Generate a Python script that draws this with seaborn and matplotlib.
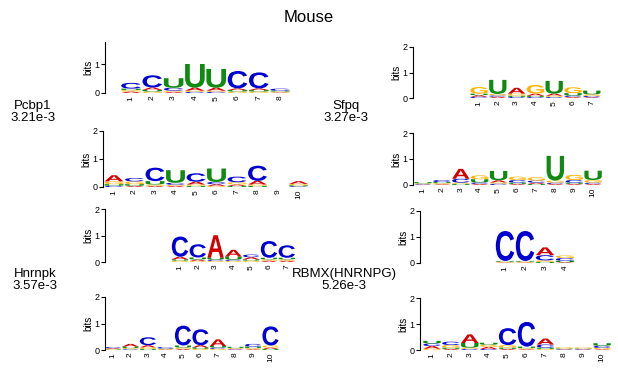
import matplotlib
matplotlib.use("Agg")
import matplotlib.pyplot as plt
import seaborn as sns
from matplotlib.textpath import TextPath
from matplotlib.patches import PathPatch
from matplotlib.font_manager import FontProperties
from matplotlib.transforms import Affine2D

sns.set_style("ticks", {'text.color': 'black', 'axes.labelcolor': 'black',
                        'xtick.color': 'black', 'ytick.color': 'black',
                        'axes.edgecolor': 'black'})
plt.rcParams['font.family'] = ['Liberation Sans', 'DejaVu Sans']

bases = ['A', 'C', 'G', 'U']
base_colors = {'A': '#D40000', 'C': '#0000D0', 'G': '#FFB300', 'U': '#108A10'}

# letter heights in bits per position
pcbp1_motif = {
    'A': [0.05, 0.08, 0.04, 0.10, 0.10, 0.06, 0.06, 0.02],
    'C': [0.20, 0.42, 0.10, 0.04, 0.04, 0.60, 0.55, 0.07],
    'G': [0.05, 0.05, 0.04, 0.04, 0.04, 0.05, 0.05, 0.03],
    'U': [0.05, 0.06, 0.33, 0.82, 0.65, 0.05, 0.05, 0.03],
}
pcbp1_db = {
    'A': [0.22, 0.04, 0.04, 0.04, 0.10, 0.06, 0.05, 0.13, 0.0, 0.10],
    'C': [0.04, 0.12, 0.48, 0.07, 0.30, 0.08, 0.20, 0.54, 0.0, 0.03],
    'G': [0.10, 0.10, 0.05, 0.04, 0.05, 0.04, 0.08, 0.05, 0.0, 0.05],
    'U': [0.06, 0.06, 0.12, 0.45, 0.04, 0.48, 0.04, 0.04, 0.0, 0.03],
}
hnrnpk_motif = {
    'A': [0.10, 0.05, 0.85, 0.25, 0.08, 0.05, 0.05],
    'C': [0.76, 0.50, 0.05, 0.05, 0.10, 0.63, 0.47],
    'G': [0.05, 0.04, 0.04, 0.04, 0.05, 0.05, 0.05],
    'U': [0.05, 0.08, 0.07, 0.12, 0.05, 0.06, 0.06],
}
hnrnpk_db = {
    'A': [0.03, 0.10, 0.08, 0.02, 0.04, 0.08, 0.25, 0.02, 0.03, 0.05],
    'C': [0.04, 0.03, 0.30, 0.05, 0.75, 0.60, 0.05, 0.02, 0.10, 0.72],
    'G': [0.02, 0.04, 0.06, 0.02, 0.05, 0.04, 0.04, 0.03, 0.04, 0.08],
    'U': [0.02, 0.06, 0.04, 0.02, 0.08, 0.06, 0.06, 0.05, 0.06, 0.04],
}
sfpq_motif = {
    'A': [0.06, 0.05, 0.23, 0.08, 0.08, 0.04, 0.03],
    'C': [0.05, 0.05, 0.04, 0.04, 0.04, 0.05, 0.05],
    'G': [0.26, 0.06, 0.08, 0.34, 0.05, 0.23, 0.06],
    'U': [0.06, 0.55, 0.05, 0.05, 0.50, 0.10, 0.15],
}
sfpq_db = {
    'A': [0.02, 0.03, 0.38, 0.04, 0.08, 0.04, 0.05, 0.04, 0.04, 0.04],
    'C': [0.02, 0.08, 0.15, 0.06, 0.05, 0.10, 0.08, 0.05, 0.10, 0.05],
    'G': [0.02, 0.04, 0.05, 0.15, 0.05, 0.13, 0.13, 0.08, 0.20, 0.10],
    'U': [0.05, 0.04, 0.04, 0.12, 0.36, 0.05, 0.04, 0.95, 0.05, 0.36],
}
rbmx_motif = {
    'A': [0.02, 0.02, 0.30, 0.03],
    'C': [1.15, 1.15, 0.20, 0.10],
    'G': [0.03, 0.03, 0.06, 0.10],
    'U': [0.03, 0.03, 0.04, 0.06],
}
rbmx_db = {
    'A': [0.10, 0.04, 0.33, 0.08, 0.04, 0.03, 0.23, 0.02, 0.02, 0.03],
    'C': [0.10, 0.13, 0.04, 0.04, 0.65, 0.95, 0.12, 0.02, 0.02, 0.08],
    'G': [0.05, 0.10, 0.05, 0.08, 0.10, 0.04, 0.04, 0.05, 0.04, 0.05],
    'U': [0.10, 0.05, 0.18, 0.08, 0.05, 0.06, 0.05, 0.02, 0.02, 0.10],
}

labels = ['Pcbp1\n3.21e-3', 'Sfpq\n3.27e-3', 'Hnrnpk\n3.57e-3', 'RBMX(HNRNPG)\n5.26e-3']

W, H = 618, 377
fig = plt.figure(figsize=(W / 100, H / 100), dpi=100)
letter_font = FontProperties(family='Liberation Sans', weight='bold')


def draw_letter(ax, letter, x, y, h, w=0.92):
    tp = TextPath((0, 0), letter, size=1, prop=letter_font)
    bb = tp.get_extents()
    t = (Affine2D().translate(-bb.x0, -bb.y0)
         .scale(w / bb.width, h / bb.height)
         .translate(x - w / 2, y))
    ax.add_patch(PathPatch(t.transform_path(tp), fc=base_colors[letter], lw=0))


def add_logo(counts, spine_x, y0, ppb, pos1, step, ymax=2.0):
    n = len(counts['A'])
    right = pos1 + (n - 0.4) * step
    top = y0 - ymax * ppb
    ax = fig.add_axes([spine_x / W, 1 - y0 / H, (right - spine_x) / W, (y0 - top) / H])
    ax.set_xlim(1 - (pos1 - spine_x) / step, 1 + (right - pos1) / step)
    ax.set_ylim(0, ymax)
    for i in range(n):
        col = sorted(bases, key=lambda b: counts[b][i])
        y = 0
        for b in col:
            h = counts[b][i]
            if h > 0:
                draw_letter(ax, b, i + 1, y, h)
            y += h
    ax.patch.set_visible(False)
    for s in ['top', 'right', 'bottom']:
        ax.spines[s].set_visible(False)
    ax.spines['left'].set_bounds(0, min(2, ymax))
    ax.spines['left'].set_linewidth(0.8)
    ax.set_yticks([0, 1, 2] if ymax >= 2 else [0, 1])
    ax.tick_params(axis='y', labelsize=6.5, length=3, width=0.8, pad=1)
    ax.set_xticks(range(1, n + 1))
    ax.set_xticklabels([str(i) for i in range(1, n + 1)], rotation=90, fontsize=6)
    ax.tick_params(axis='x', length=0, pad=2)
    ax.set_ylabel('bits', fontsize=7, labelpad=1)
    return ax


add_logo(pcbp1_motif, 105, 93, 29, 131, 21.3, ymax=1.75)
add_logo(pcbp1_db, 103, 187, 28, 114, 20.5)
add_logo(hnrnpk_motif, 105, 262, 26.5, 180, 17.8)
add_logo(hnrnpk_db, 105, 350, 26.5, 113, 17.5)
add_logo(sfpq_motif, 413, 98, 25.5, 479, 18.8)
add_logo(sfpq_db, 413, 185, 26, 423, 18.9)
add_logo(rbmx_motif, 420, 263, 26, 505, 20)
add_logo(rbmx_db, 420, 350, 26, 432, 18.9)

label_pos = [(33, 112), (346, 112), (35, 280), (344, 280)]
for txt, (x, y) in zip(labels, label_pos):
    fig.text(x / W, 1 - y / H, txt, ha='center', va='center', fontsize=9.5, linespacing=1.05)

fig.text(309 / W, 1 - 18 / H, 'Mouse', ha='center', va='center', fontsize=12)

fig.savefig('out.png', dpi=100)
